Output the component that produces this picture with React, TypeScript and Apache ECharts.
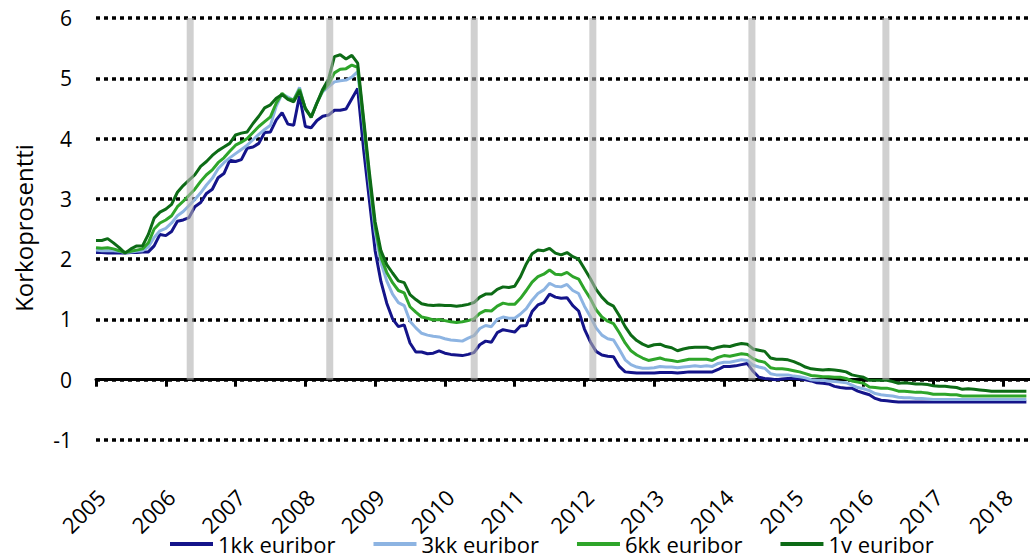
import React, { useEffect, useRef } from "react";
import * as echarts from "echarts";

const START_YEAR = 2005;
const yearTicks = [2005, 2006, 2007, 2008, 2009, 2010, 2011, 2012, 2013, 2014, 2015, 2016, 2017, 2018];
const seriesNames = ["1kk euribor", "3kk euribor", "6kk euribor", "1v euribor"];
const seriesColors = ["#14148a", "#8db4e2", "#2ea52a", "#0d6b16"];

// Monthly values 2005-01 ... 2018-05
const euribor1kk = [
  2.11, 2.11, 2.10, 2.10, 2.10, 2.10, 2.11, 2.11, 2.12, 2.12, 2.22, 2.41,
  2.39, 2.46, 2.63, 2.65, 2.69, 2.87, 2.94, 3.09, 3.16, 3.35, 3.42, 3.64,
  3.62, 3.65, 3.84, 3.86, 3.92, 4.10, 4.11, 4.31, 4.43, 4.24, 4.22, 4.71,
  4.20, 4.18, 4.30, 4.37, 4.39, 4.47, 4.47, 4.49, 4.66, 4.83, 3.84, 2.99,
  2.14, 1.63, 1.27, 1.01, 0.88, 0.91, 0.61, 0.46, 0.46, 0.43, 0.44, 0.48,
  0.44, 0.42, 0.41, 0.40, 0.42, 0.45, 0.58, 0.64, 0.62, 0.78, 0.83, 0.81,
  0.79, 0.89, 0.90, 1.13, 1.24, 1.28, 1.42, 1.37, 1.35, 1.36, 1.23, 1.14,
  0.84, 0.63, 0.47, 0.41, 0.39, 0.38, 0.22, 0.13, 0.12, 0.11, 0.11, 0.11,
  0.11, 0.12, 0.12, 0.12, 0.11, 0.12, 0.13, 0.13, 0.13, 0.13, 0.13, 0.17,
  0.22, 0.22, 0.23, 0.25, 0.27, 0.14, 0.04, 0.02, 0.01, 0.00, 0.01, 0.02,
  0.02, 0.01, 0.00, -0.02, -0.05, -0.06, -0.07, -0.11, -0.13, -0.14, -0.14, -0.19,
  -0.22, -0.25, -0.31, -0.34, -0.35, -0.36, -0.37, -0.37, -0.37, -0.37, -0.37, -0.37,
  -0.37, -0.37, -0.37, -0.37, -0.37, -0.37, -0.37, -0.37, -0.37, -0.37, -0.37, -0.37,
  -0.37, -0.37, -0.37, -0.37, -0.37,
];

const euribor3kk = [
  2.15, 2.14, 2.14, 2.14, 2.13, 2.11, 2.12, 2.13, 2.14, 2.20, 2.36, 2.47,
  2.51, 2.60, 2.72, 2.79, 2.89, 2.99, 3.10, 3.23, 3.34, 3.50, 3.60, 3.68,
  3.75, 3.82, 3.89, 3.98, 4.07, 4.15, 4.22, 4.54, 4.74, 4.69, 4.64, 4.85,
  4.48, 4.36, 4.60, 4.78, 4.86, 4.94, 4.96, 4.97, 5.02, 5.11, 4.24, 3.29,
  2.46, 1.94, 1.64, 1.42, 1.28, 1.23, 0.97, 0.86, 0.77, 0.74, 0.72, 0.71,
  0.68, 0.66, 0.65, 0.64, 0.69, 0.73, 0.85, 0.90, 0.88, 1.00, 1.04, 1.02,
  1.02, 1.09, 1.18, 1.32, 1.43, 1.49, 1.60, 1.55, 1.54, 1.58, 1.48, 1.43,
  1.22, 1.05, 0.86, 0.74, 0.68, 0.66, 0.50, 0.33, 0.25, 0.21, 0.19, 0.19,
  0.20, 0.22, 0.21, 0.21, 0.20, 0.21, 0.22, 0.23, 0.22, 0.23, 0.22, 0.27,
  0.29, 0.29, 0.31, 0.33, 0.32, 0.24, 0.21, 0.19, 0.10, 0.08, 0.08, 0.08,
  0.06, 0.05, 0.03, 0.00, -0.01, -0.01, -0.02, -0.03, -0.04, -0.05, -0.09, -0.13,
  -0.15, -0.18, -0.23, -0.25, -0.26, -0.27, -0.29, -0.30, -0.30, -0.31, -0.31, -0.32,
  -0.33, -0.33, -0.33, -0.33, -0.33, -0.33, -0.33, -0.33, -0.33, -0.33, -0.33, -0.33,
  -0.33, -0.33, -0.33, -0.33, -0.33,
];

const euribor6kk = [
  2.19, 2.18, 2.19, 2.17, 2.14, 2.11, 2.13, 2.15, 2.17, 2.27, 2.50, 2.60,
  2.65, 2.72, 2.87, 2.96, 3.06, 3.16, 3.29, 3.40, 3.48, 3.60, 3.68, 3.79,
  3.89, 3.94, 4.00, 4.10, 4.20, 4.28, 4.36, 4.59, 4.75, 4.66, 4.64, 4.82,
  4.50, 4.36, 4.59, 4.80, 4.90, 5.09, 5.15, 5.16, 5.22, 5.18, 4.29, 3.37,
  2.54, 2.03, 1.78, 1.61, 1.48, 1.44, 1.21, 1.12, 1.04, 1.02, 0.99, 1.00,
  0.98, 0.96, 0.95, 0.96, 0.98, 1.01, 1.10, 1.15, 1.14, 1.22, 1.27, 1.25,
  1.25, 1.35, 1.48, 1.62, 1.71, 1.75, 1.82, 1.75, 1.74, 1.78, 1.71, 1.67,
  1.50, 1.35, 1.16, 1.04, 0.97, 0.93, 0.78, 0.61, 0.48, 0.41, 0.36, 0.32,
  0.34, 0.36, 0.33, 0.32, 0.30, 0.32, 0.34, 0.34, 0.34, 0.34, 0.32, 0.37,
  0.40, 0.39, 0.41, 0.43, 0.42, 0.35, 0.31, 0.29, 0.20, 0.18, 0.18, 0.17,
  0.15, 0.13, 0.10, 0.07, 0.06, 0.05, 0.05, 0.04, 0.04, 0.02, -0.02, -0.04,
  -0.06, -0.12, -0.13, -0.14, -0.14, -0.16, -0.19, -0.19, -0.20, -0.21, -0.21, -0.22,
  -0.24, -0.24, -0.24, -0.25, -0.25, -0.27, -0.27, -0.27, -0.27, -0.27, -0.27, -0.27,
  -0.27, -0.27, -0.27, -0.27, -0.27,
];

const euribor1v = [
  2.31, 2.31, 2.34, 2.27, 2.19, 2.10, 2.17, 2.22, 2.22, 2.41, 2.68, 2.78,
  2.83, 2.91, 3.11, 3.22, 3.31, 3.40, 3.54, 3.62, 3.72, 3.80, 3.86, 3.92,
  4.06, 4.09, 4.11, 4.25, 4.37, 4.51, 4.56, 4.67, 4.73, 4.65, 4.61, 4.79,
  4.50, 4.35, 4.59, 4.82, 4.99, 5.36, 5.39, 5.32, 5.38, 5.25, 4.35, 3.45,
  2.62, 2.14, 1.91, 1.77, 1.64, 1.61, 1.41, 1.33, 1.26, 1.24, 1.23, 1.24,
  1.23, 1.23, 1.22, 1.23, 1.25, 1.28, 1.37, 1.42, 1.42, 1.50, 1.54, 1.53,
  1.55, 1.71, 1.92, 2.09, 2.15, 2.14, 2.18, 2.10, 2.07, 2.11, 2.04, 2.00,
  1.84, 1.68, 1.50, 1.37, 1.27, 1.22, 1.06, 0.88, 0.74, 0.65, 0.59, 0.55,
  0.58, 0.59, 0.55, 0.53, 0.48, 0.51, 0.53, 0.54, 0.54, 0.54, 0.51, 0.54,
  0.56, 0.55, 0.58, 0.60, 0.59, 0.51, 0.49, 0.47, 0.36, 0.34, 0.34, 0.33,
  0.30, 0.26, 0.21, 0.18, 0.17, 0.16, 0.17, 0.16, 0.15, 0.13, 0.08, 0.06,
  0.04, -0.01, -0.01, -0.01, -0.01, -0.03, -0.06, -0.05, -0.06, -0.07, -0.07, -0.08,
  -0.10, -0.11, -0.11, -0.12, -0.13, -0.16, -0.15, -0.16, -0.17, -0.18, -0.19, -0.19,
  -0.19, -0.19, -0.19, -0.19, -0.19,
];

// Positions (decimal years) of the grey vertical markers
const markerYears = [2006.35, 2008.35, 2010.42, 2012.12, 2014.4, 2016.32];
const markerTop = 6;

const FONT = "'Open Sans', sans-serif";

function toPoints(values: number[]) {
  return values.map((v, i) => [START_YEAR + i / 12, v]);
}

export default function App() {
  const ref = useRef<HTMLDivElement>(null);

  useEffect(() => {
    if (!ref.current) return;
    const chart = echarts.init(ref.current, undefined, { renderer: "svg" });
    const allSeries = [euribor1kk, euribor3kk, euribor6kk, euribor1v];

    const lineSeries = allSeries.map((vals, idx) => ({
      name: seriesNames[idx],
      type: "line",
      data: toPoints(vals),
      showSymbol: false,
      symbol: "none",
      z: 2 + idx * 0.01,
      lineStyle: { color: seriesColors[idx], width: 3 },
      itemStyle: { color: seriesColors[idx] },
    }));

    chart.setOption({
      animation: false,
      grid: {
        left: 96,
        top: 18,
        width: 942,
        height: 422,
        containLabel: false,
        outerBoundsMode: "none",
      },
      legend: {
        data: seriesNames,
        left: 165,
        top: 528,
        icon: "rect",
        itemWidth: 43,
        itemHeight: 4,
        itemGap: 38,
        textStyle: { fontFamily: FONT, fontSize: 22, color: "#000" },
      },
      xAxis: {
        type: "value",
        min: 2005,
        max: 2018.5,
        interval: 1,
        axisLine: { show: true, onZero: true, lineStyle: { color: "#000", width: 3 } },
        axisTick: { show: true, length: 7, lineStyle: { color: "#000", width: 3 } },
        splitLine: { show: false },
        axisLabel: {
          rotate: 45,
          margin: 58,
          padding: [0, -7, 0, 0],
          fontFamily: FONT,
          fontSize: 22,
          color: "#000",
          formatter: (v: number) => (yearTicks.includes(v) ? String(v) : ""),
        },
      },
      yAxis: {
        type: "value",
        min: -1,
        max: 6,
        interval: 1,
        axisLine: { show: false },
        axisTick: { show: false },
        axisLabel: { margin: 24, fontFamily: FONT, fontSize: 21, color: "#000" },
        splitLine: { show: true, lineStyle: { color: "#000", width: 3.5, type: [4, 4] } },
      },
      graphic: [
        {
          type: "text",
          x: 23,
          y: 228,
          rotation: Math.PI / 2,
          style: {
            text: "Korkoprosentti",
            fontFamily: FONT,
            fontSize: 24,
            fill: "#000",
            textAlign: "center",
            textVerticalAlign: "middle",
          },
        },
      ],
      series: [
        ...lineSeries,
        {
          name: "markers",
          type: "bar",
          data: markerYears.map((y) => [y, markerTop]),
          barWidth: 7,
          z: 5,
          itemStyle: { color: "#b0b0b0", opacity: 0.6 },
          silent: true,
        },
      ],
    });

    return () => chart.dispose();
  }, []);

  return (
    <div style={{ position: "absolute", left: 0, top: 0, width: 1030, height: 556, overflow: "hidden", background: "#fff" }}>
      <div ref={ref} style={{ width: 1030, height: 556 }} />
    </div>
  );
}
